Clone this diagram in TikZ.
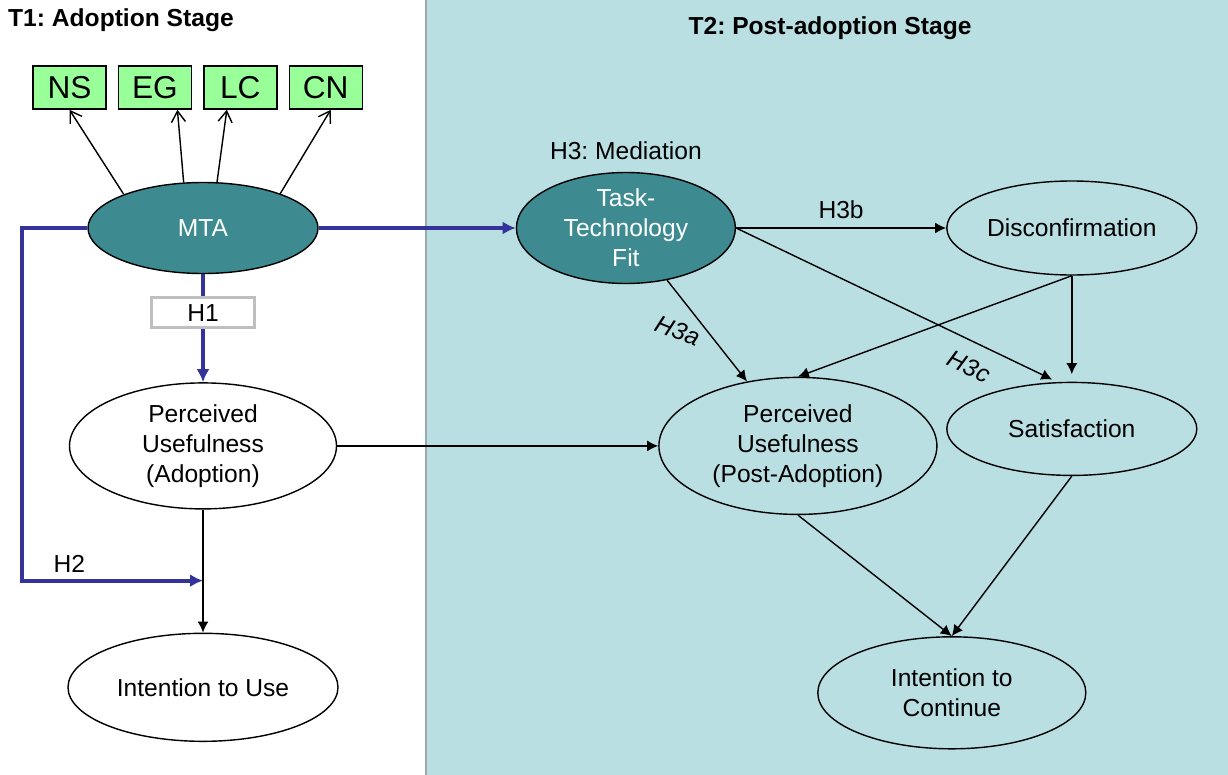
\documentclass[tikz,border=0pt]{standalone}
\usepackage{fontspec}
\setmainfont{Liberation Sans}
\usepackage{tikz}
\usetikzlibrary{arrows.meta,positioning,shapes.geometric}
\frenchspacing
\definecolor{stageTeal}{RGB}{61,139,145}
\definecolor{postPanel}{RGB}{185,223,226}
\definecolor{factorGreen}{RGB}{153,255,153}
\definecolor{pathBlue}{RGB}{51,51,153}
\definecolor{panelEdge}{RGB}{150,170,175}
\tikzset{
  bubble/.style={ellipse, draw=black, line width=0.8pt, fill=white, align=center, inner sep=0pt, font=\fontsize{14}{17}\selectfont},
  postbubble/.style={bubble, fill=postPanel},
  tealbubble/.style={bubble, fill=stageTeal, text=white},
  factorbox/.style={draw=black, line width=0.8pt, fill=factorGreen, minimum width=1.46cm, minimum height=0.86cm, inner sep=0pt, font=\fontsize{18}{20}\selectfont},
  tagbox/.style={draw=black!25, fill=white, minimum width=2.06cm, minimum height=0.6cm, inner sep=0pt, font=\fontsize{14}{17}\selectfont},
  hlabel/.style={font=\fontsize{14}{17}\selectfont},
  stagetitle/.style={font=\fontsize{14}{17}\selectfont\bfseries},
  flow/.style={-{Latex[length=2.2mm,width=2.2mm]}, line width=0.8pt},
  openflow/.style={-{Straight Barb[length=2.2mm,width=2.8mm]}, line width=0.8pt},
  keyflow/.style={-{Latex[length=2.6mm,width=2.6mm]}, line width=2.2pt, draw=pathBlue}
}
\begin{document}
\begin{tikzpicture}[node distance=0.22cm]
        \useasboundingbox (0,0) rectangle (24.56,-15.5);
        \fill[postPanel] (8.52,0) rectangle (24.56,-15.5);
        \draw[panelEdge, line width=0.6pt] (8.52,0) -- (8.52,-15.5);
        \node[stagetitle, anchor=west] (t1) at (0.04,-0.4) {T1: Adoption Stage};
        \node[stagetitle] (t2) at (16.6,-0.56) {T2: Post-adoption Stage};
        \node[tealbubble, minimum width=4.6cm, minimum height=1.82cm] (mta) at (4.06,-4.56) {MTA};
        \node[factorbox, above=1.44cm of mta, xshift=-2.67cm] (ns) {NS};
        \node[factorbox, right=of ns] (eg) {EG};
        \node[factorbox, right=of eg] (lc) {LC};
        \node[factorbox, right=of lc] (cn) {CN};
        \node[bubble, below=2.16cm of mta, minimum width=5.34cm, minimum height=2.52cm] (pua) {Perceived\\Usefulness\\(Adoption)};
        \node[bubble, below=2.46cm of pua, minimum width=5.4cm, minimum height=2.16cm] (itu) {Intention to Use};
        \coordinate[below=1.42cm of pua.south] (h2end);
        \node[tealbubble, right=3.94cm of mta, minimum width=4.38cm, minimum height=2.22cm] (ttf) {Task-\\Technology\\Fit};
        \node[hlabel, above=0.12cm of ttf] (med) {H3: Mediation};
        \node[postbubble, right=4.2cm of ttf, minimum width=5cm, minimum height=1.88cm] (dis) {Disconfirmation};
        \node[postbubble, below=2.12cm of dis, minimum width=5cm, minimum height=1.86cm] (sat) {Satisfaction};
        \node[postbubble, right=6.42cm of pua, minimum width=5.56cm, minimum height=2.74cm] (pup) {Perceived\\Usefulness\\(Post-Adoption)};
        \node[postbubble, below=3.2cm of sat, xshift=-2.4cm, minimum width=5.36cm, minimum height=2.24cm] (itc) {Intention to\\Continue};
        \draw[openflow] (mta.157) -- (ns.south);
        \draw[openflow] (mta.113) -- ([xshift=0.45cm]eg.south);
        \draw[openflow] (mta.73) -- ([xshift=-0.27cm]lc.south);
        \draw[openflow] (mta.24) -- ([xshift=0.1cm]cn.south);
        \draw[keyflow] (mta) -- (ttf);
        \draw[keyflow] (mta) -- (pua) node[tagbox, pos=0.355] {H1};
        \draw[keyflow] (mta.west) -- ++(-1.3,0) |- (h2end) node[hlabel, pos=0.63, above] {H2};
        \draw[flow] (pua) -- (itu);
        \draw[flow] (pua.east) -- (pup.west);
        \draw[flow] (ttf) -- (dis) node[hlabel, midway, above=0.05cm] {H3b};
        \draw[flow] (ttf) -- (pup) node[hlabel, pos=0.5, xshift=-0.58cm, rotate=-22] {\itshape H3a};
        \draw[flow, shorten >=0.1cm] (ttf.east) -- ([xshift=-0.3cm]sat.north) node[hlabel, pos=0.76, sloped, below=0.18cm] {\itshape H3c};
        \draw[flow] (dis.south) -- (pup.north);
        \draw[flow, shorten >=0.15cm] (dis.south) -- (sat.north);
        \draw[flow] (pup.south) -- (itc.north);
        \draw[flow] (sat.south) -- (itc.north);
      \end{tikzpicture}
\end{document}
